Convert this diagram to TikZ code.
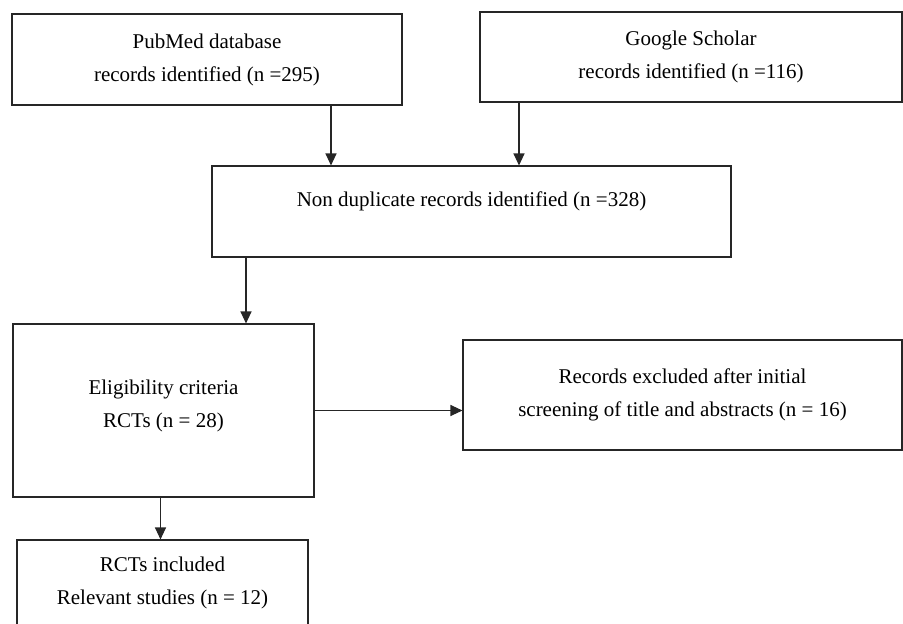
\documentclass[tikz,border=0pt]{standalone}
\usepackage{fontspec}
\setmainfont{Liberation Serif}
\usetikzlibrary{arrows.meta}

\begin{document}
\begin{tikzpicture}[x=1pt,y=-1pt,
            box/.style={draw=black!85,line width=1.1pt,align=center,inner sep=0pt,
              font=\fontsize{21}{33}\selectfont},
            arr/.style={draw=black!85,line width=1.1pt,-{Triangle[length=12pt,width=11pt]}}]
            \useasboundingbox (0,0) rectangle (903,624);
            \node [box,minimum width=390,minimum height=91] (pub) at (207,59.5) {PubMed database\\records identified (n =295)};
            \node [box,minimum width=422,minimum height=90] (gs) at (691,57) {Google Scholar\\records identified (n =116)};
            \node [box,minimum width=519,minimum height=91] (nondup) at (471.5,211.5) {Non duplicate records identified (n =328)\\[-8pt]\mbox{}};
            \node [box,minimum width=301,minimum height=173] (elig) at (163.5,410.5) {Eligibility criteria\\RCTs (n = 28)\\[-20pt]\mbox{}};
            \node [box,minimum width=439,minimum height=110] (excl) at (682.5,395) {Records excluded after initial\\screening of title and abstracts (n = 16)};
            \node [box,minimum width=291,minimum height=86] (incl) at (162.5,583) {RCTs included\\Relevant studies (n = 12)};
            \draw [arr] ([xshift=124]pub.south) -- ([xshift=124]pub.south |- nondup.north);
            \draw [arr] ([xshift=-172]gs.south) -- ([xshift=-172]gs.south |- nondup.north);
            \draw [arr] ([xshift=-225.5]nondup.south) -- ([xshift=-225.5]nondup.south |- elig.north);
            \draw [arr] (elig.east) -- (elig.east -| excl.west);
            \draw [arr] ([xshift=-3]elig.south) -- ([xshift=-3]elig.south |- incl.north);
\end{tikzpicture}
\end{document}
